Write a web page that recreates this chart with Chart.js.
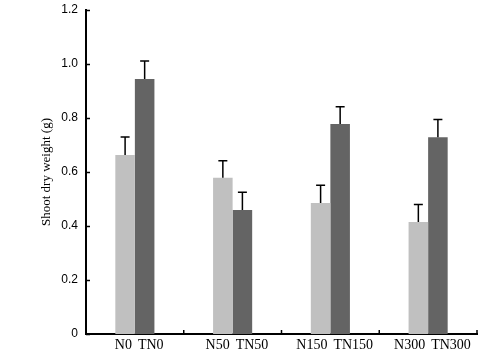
<!DOCTYPE html>
<html><head><meta charset="utf-8">
<script src="https://cdn.jsdelivr.net/npm/chart.js@4/dist/chart.umd.min.js"></script>
<style>html,body{margin:0;padding:0;background:#fff}#wrap{width:495px;height:355px}</style>
</head><body><div id="wrap"><canvas id="c" width="495" height="355"></canvas></div>
<script>
const groups = ["N0", "N50", "N150", "N300"];
const lightLabels = ["N0", "N50", "N150", "N300"];
const darkLabels = ["TN0", "TN50", "TN150", "TN300"];
const lightValues = [0.663, 0.579, 0.485, 0.415];
const lightErrors = [0.067, 0.063, 0.066, 0.065];
const darkValues = [0.944, 0.459, 0.778, 0.729];
const darkErrors = [0.067, 0.066, 0.064, 0.065];
const yTicks = [0, 0.2, 0.4, 0.6, 0.8, 1.0, 1.2];

const extras = {
  id: 'extras',
  afterDatasetsDraw(chart) {
    const ctx = chart.ctx;
    const y = chart.scales.y, x = chart.scales.x;
    const sets = [[lightValues, lightErrors], [darkValues, darkErrors]];
    ctx.save();
    ctx.strokeStyle = '#000';
    ctx.lineWidth = 1.5;
    sets.forEach((s, di) => {
      const meta = chart.getDatasetMeta(di);
      meta.data.forEach((bar, i) => {
        const top = y.getPixelForValue(s[0][i] + s[1][i]);
        ctx.beginPath();
        ctx.moveTo(bar.x, bar.y);
        ctx.lineTo(bar.x, top);
        ctx.moveTo(bar.x - 4.5, top);
        ctx.lineTo(bar.x + 4.5, top);
        ctx.stroke();
      });
    });
    ctx.fillStyle = '#000';
    ctx.font = '14px "Liberation Serif", "Times New Roman", serif';
    ctx.textBaseline = 'alphabetic';
    groups.forEach((g, i) => {
      const cx = x.getPixelForValue(i);
      ctx.textAlign = 'right';
      ctx.fillText(lightLabels[i], cx - 3, y.bottom + 15);
      ctx.textAlign = 'left';
      ctx.fillText(darkLabels[i], cx + 3, y.bottom + 15);
    });
    ctx.lineWidth = 1.5;
    yTicks.forEach(v => {
      const py = Math.round(y.getPixelForValue(v)) + 0.5;
      ctx.beginPath();
      ctx.moveTo(x.left, py);
      ctx.lineTo(x.left + 4, py);
      ctx.stroke();
    });
    const half = (x.right - x.left) / groups.length / 2;
    groups.forEach((g, i) => {
      const px = x.getPixelForValue(i) + half;
      ctx.beginPath();
      ctx.moveTo(px, y.bottom);
      ctx.lineTo(px, y.bottom - 4);
      ctx.stroke();
    });
    ctx.restore();
  }
};

new Chart(document.getElementById('c'), {
  type: 'bar',
  data: {
    labels: groups,
    datasets: [
      { data: lightValues, backgroundColor: '#c0c0c0', borderWidth: 0 },
      { data: darkValues, backgroundColor: '#646464', borderWidth: 0 }
    ]
  },
  options: {
    responsive: false,
    animation: false,
    devicePixelRatio: 1,
    layout: { padding: { left: 0, right: 18, top: 10, bottom: 0 } },
    plugins: { legend: { display: false }, tooltip: { enabled: false } },
    datasets: { bar: { categoryPercentage: 0.4, barPercentage: 1.0 } },
    scales: {
      x: {
        offset: true,
        grid: { display: false, drawTicks: false },
        border: { display: true, color: '#000', width: 2 },
        ticks: { display: false },
        afterFit(s) { s.height = 21; s.paddingLeft = 0; s.paddingRight = 0; }
      },
      y: {
        min: 0, max: 1.2,
        afterBuildTicks(s) { s.ticks = yTicks.map(v => ({ value: v })); },
        grid: { display: false, drawTicks: false },
        border: { display: true, color: '#000', width: 2 },
        ticks: {
          padding: 8,
          color: '#000',
          font: { family: '"Liberation Sans", Arial, sans-serif', size: 12 },
          callback: v => (v === 0 ? '0' : v.toFixed(1))
        },
        title: {
          display: true,
          text: 'Shoot dry weight (g)',
          color: '#000',
          font: { family: '"Liberation Serif", "Times New Roman", serif', size: 13 },
          padding: { top: 39, bottom: 0 }
        },
        afterFit(s) { s.width = 86; s.paddingTop = 0; s.paddingBottom = 0; }
      }
    }
  },
  plugins: [extras]
});
</script></body></html>
